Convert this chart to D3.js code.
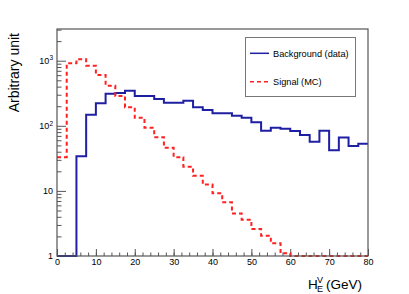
<body style="margin:0;background:#fff">

<svg></svg>

<script src="https://d3js.org/d3.v7.min.js"></script>
<script>

// bin edges are 0, 2.5, ..., 80 GeV
const binWidth = 2.5;
const background = [0, 0, 34, 148, 222, 312, 318, 346, 287, 287, 258, 226, 226, 243, 192, 175,
                    156, 156, 143, 133, 113, 84, 93, 90, 83, 72, 57, 84, 42, 66, 49, 53];
const signal = [33, 912, 1051, 838, 603, 413, 287, 192, 133, 93, 67, 46, 33, 23.5, 17.1, 12.5,
                9.2, 6.7, 4.5, 3.6, 2.6, 2.05, 1.57, 1.1, 0, 0, 0, 0, 0, 0, 0, 0];
const xTicks = [0, 10, 20, 30, 40, 50, 60, 70, 80];
const yTicks = [1, 10, 100, 1000];
const yTickLabels = [["1", ""], ["10", ""], ["10", "2"], ["10", "3"]];
const legendLabels = ["Background (data)", "Signal (MC)"];

var width = 409;
var height = 294;
var frameColor = "#555";

const svg = d3.select("svg")
    .attr("width", width)
    .attr("height", height)
    .style("font-family", "'Liberation Sans', Arial, sans-serif");

const x = d3.scaleLinear().domain([0, 80]).range([57, 368]);
const y = d3.scaleLog().domain([1, 3070]).range([256, 29]);

// minor ticks
var xMinor = d3.range(0, 81, 2);
var yMinor = [];
[1, 10, 100, 1000].forEach(d => d3.range(2, 10).forEach(k => { if (d * k <= 3070) yMinor.push(d * k); }));

svg.append("g")
    .attr("transform", `translate(0,${y.range()[0]})`)
    .call(d3.axisBottom(x).tickValues(xMinor).tickSize(-3.5).tickFormat(""))
    .call(g => g.select(".domain").remove());

svg.append("g")
    .attr("transform", `translate(0,${y.range()[0]})`)
    .call(d3.axisBottom(x).tickValues(xTicks).tickSize(-7).tickPadding(3).tickFormat(d3.format("d")))
    .call(g => g.select(".domain").remove())
    .call(g => g.selectAll("text").attr("font-size", 9).attr("fill", "#000").attr("font-family", null));

svg.append("g")
    .attr("transform", `translate(${x.range()[0]},0)`)
    .call(d3.axisLeft(y).tickValues(yMinor).tickSize(-4.5).tickFormat(""))
    .call(g => g.select(".domain").remove());

svg.append("g")
    .attr("transform", `translate(${x.range()[0]},0)`)
    .call(d3.axisLeft(y).tickValues(yTicks).tickSize(-9).tickFormat(""))
    .call(g => g.select(".domain").remove());

svg.selectAll(".tick line").attr("stroke", frameColor);

// y tick labels with superscripts
svg.append("g").selectAll("text")
    .data(yTicks)
    .join("text")
        .attr("x", 53)
        .attr("y", d => y(d) + 3.2)
        .attr("text-anchor", "end")
        .attr("font-size", 9)
        .each(function(d, i) {
            const t = d3.select(this);
            t.append("tspan").text(yTickLabels[i][0]);
            if (yTickLabels[i][1]) t.append("tspan").attr("dy", -3.5).attr("font-size", 6.5).text(yTickLabels[i][1]);
        });

// histograms
function steps(values) {
    const pts = values.map((v, i) => [i * binWidth, v]);
    pts.push([values.length * binWidth, values[values.length - 1]]);
    return pts;
}

const line = d3.line()
    .x(d => x(d[0]))
    .y(d => y(Math.max(d[1], 1)))
    .curve(d3.curveStepAfter);

svg.append("path")
    .datum(steps(background))
    .attr("d", line)
    .attr("fill", "none")
    .attr("stroke", "#1f1fa3")
    .attr("stroke-width", 2);

svg.append("path")
    .datum(steps(signal))
    .attr("d", line)
    .attr("fill", "none")
    .attr("stroke", "#ff2020")
    .attr("stroke-width", 2)
    .attr("stroke-dasharray", "4,3");

// frame
svg.append("rect")
    .attr("x", x.range()[0])
    .attr("y", y.range()[1])
    .attr("width", x.range()[1] - x.range()[0])
    .attr("height", y.range()[0] - y.range()[1])
    .attr("fill", "none")
    .attr("stroke", frameColor)
    .attr("stroke-width", 1.2);

// legend
const legend = svg.append("g");
legend.append("rect")
    .attr("x", 245.5).attr("y", 37.5)
    .attr("width", 110).attr("height", 59)
    .attr("fill", "#fff")
    .attr("stroke", "#777")
    .attr("stroke-width", 1);

[["#1f1fa3", null, 53.3], ["#ff2020", "4,3", 81.7]].forEach((s, i) => {
    legend.append("line")
        .attr("x1", 250).attr("x2", 269)
        .attr("y1", s[2]).attr("y2", s[2])
        .attr("stroke", s[0])
        .attr("stroke-width", 1.5)
        .attr("stroke-dasharray", s[1]);
    legend.append("text")
        .attr("x", 273)
        .attr("y", s[2] + 3.3)
        .attr("font-size", 9.2)
        .text(legendLabels[i]);
});

// axis titles
svg.append("text")
    .attr("transform", "translate(18.5,33) rotate(-90)")
    .attr("text-anchor", "end")
    .attr("font-size", 14)
    .text("Arbitrary unit");

const xt = svg.append("g");
xt.append("text").attr("x", 308).attr("y", 289).attr("font-size", 13.5).text("H");
xt.append("text").attr("x", 317).attr("y", 282.5).attr("font-size", 9).text("V");
xt.append("text").attr("x", 317).attr("y", 292).attr("font-size", 9).text("E");
xt.append("text").attr("x", 362).attr("y", 289).attr("font-size", 13.5).attr("text-anchor", "end").text("(GeV)");

</script>

</body>
